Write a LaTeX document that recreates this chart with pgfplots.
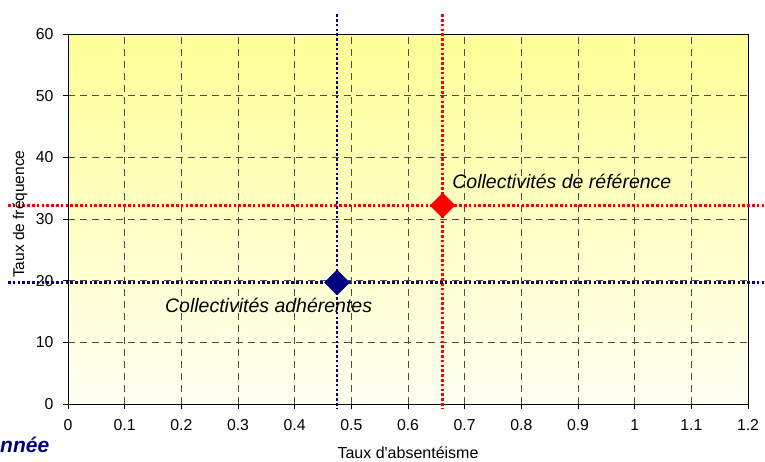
\documentclass[border=0pt]{standalone}
\usepackage{fontspec}
\setmainfont{Liberation Sans}
\usepackage{pgfplots}
\pgfplotsset{compat=1.18}
\definecolor{navyline}{RGB}{0,0,128}
\definecolor{refred}{RGB}{255,0,0}
\definecolor{bgtop}{RGB}{255,255,150}
\definecolor{bgbottom}{RGB}{255,255,242}

\begin{document}
\begin{tikzpicture}
	\begin{axis}[
		at={(68pt,57pt)}, anchor=south west,
		scale only axis, width=680pt, height=370pt,
		xmin=0, xmax=1.2, ymin=0, ymax=60,
		clip=false,
		xtick={0,0.1,0.2,0.3,0.4,0.5,0.6,0.7,0.8,0.9,1,1.1,1.2},
		ytick={0,10,20,30,40,50,60},
		tick align=outside, tick pos=left,
		major tick length=5pt,
		grid=major,
		major grid style={dash pattern=on 7pt off 5pt, black!70, line width=0.8pt},
		axis line style={black, line width=0.9pt},
		tick style={black, line width=0.8pt},
		axis background/.style={top color=bgtop, bottom color=bgbottom},
		ticklabel style={font=\fontsize{15.8}{18}\selectfont},
		xticklabel style={yshift=-7pt},
		yticklabel style={xshift=-6pt},
		/pgf/number format/assume math mode=true,
		xlabel={Taux d\textquotesingle absentéisme},
		ylabel={Taux de fréquence},
		xlabel style={at={(axis description cs:0.5,-0.146)}, anchor=base, font=\fontsize{16}{18}\selectfont},
		ylabel style={at={(axis description cs:-0.0706,0.513)}, anchor=center, font=\fontsize{15.5}{18}\selectfont},
		]
		% reference lines
		\addplot[refred, line width=2.6pt, dash pattern=on 2.6pt off 2.2pt] coordinates {(-0.106,32.2) (1.23,32.2)};
		\addplot[refred, line width=2.6pt, dash pattern=on 2.6pt off 2.2pt] coordinates {(0.661,63.2) (0.661,-0.65)};
		\addplot[navyline, line width=2.6pt, dash pattern=on 2.6pt off 2.2pt] coordinates {(-0.106,19.7) (1.23,19.7)};
		\addplot[navyline, line width=2.6pt, dash pattern=on 2.6pt off 2.2pt] coordinates {(0.475,63.2) (0.475,-0.65)};
		% points
		\addplot[only marks, mark=square*, mark size=8.8pt, mark options={rotate=45, fill=refred, draw=refred}] coordinates {(0.661,32.2)};
		\addplot[only marks, mark=square*, mark size=8.8pt, mark options={rotate=45, fill=navyline, draw=navyline}] coordinates {(0.475,19.7)};
		\node[anchor=base west, inner sep=0pt, font=\itshape\fontsize{19.5}{22}\selectfont] at (axis cs:0.678,35.0) {Collectivités de référence};
		\node[anchor=base west, inner sep=0pt, font=\itshape\fontsize{19.5}{22}\selectfont] at (axis cs:0.171,14.8) {Collectivités adhérentes};
	\end{axis}
	\node[anchor=base west, inner sep=0pt, text=navyline, font=\bfseries\itshape\fontsize{21}{24}\selectfont] at (0pt,8.3pt) {nnée};
	\pgfresetboundingbox
	\useasboundingbox (0pt,0pt) rectangle (765pt,461pt);
\end{tikzpicture}
\end{document}
